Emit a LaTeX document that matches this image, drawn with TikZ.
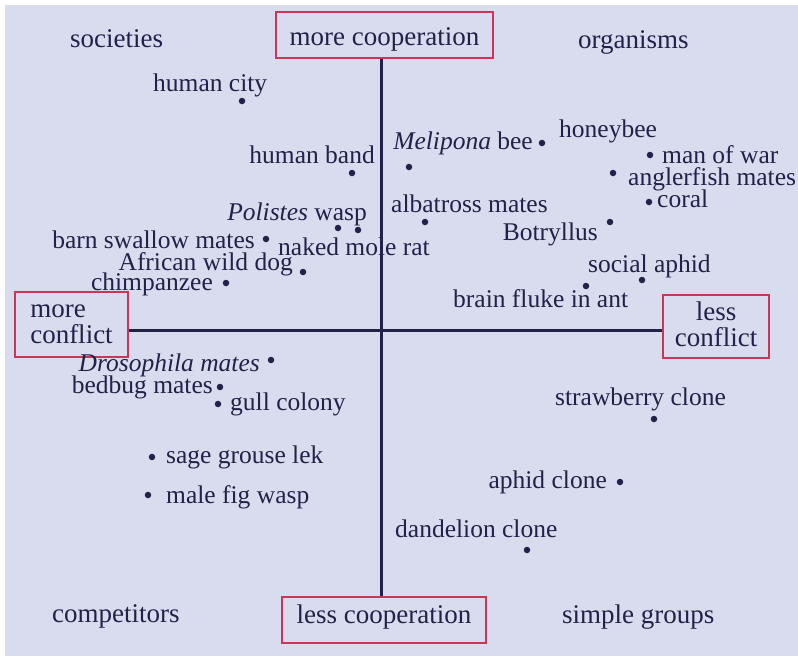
\documentclass[tikz,border=0pt]{standalone}
\usepackage{fontspec}
\setmainfont{Liberation Serif}
\definecolor{bgblue}{RGB}{217,220,238}
\definecolor{ink}{RGB}{32,34,72}
\definecolor{boxred}{RGB}{200,55,85}

\begin{document}
\begin{tikzpicture}[x=1pt,y=-1pt,
  sdot/.style={circle, fill=ink, inner sep=0pt, minimum size=6.5pt},
  lab/.style={text=ink, inner sep=0pt, font=\fontsize{25.5}{28}\selectfont},
  corner/.style={text=ink, inner sep=0pt, anchor=base west, font=\fontsize{27}{30}\selectfont},
  axbox/.style={draw=boxred, line width=1.2pt, text=ink, inner sep=0pt, font=\fontsize{27}{25}\selectfont}]
\useasboundingbox (0,0) rectangle (798,656);
\fill[bgblue] (5,5) rectangle (798,656);

% boxes at the ends of the axes
\node[axbox, minimum width=217pt, minimum height=46pt, text height=20pt, text depth=0pt] (mcoop) at (384.5,35) {more cooperation};
\node[axbox, minimum width=204pt, minimum height=46pt, text height=12pt, text depth=6pt] (lcoop) at (384,620) {less cooperation};
\node[axbox, minimum width=113pt, minimum height=65pt, text height=0pt, text depth=15pt] (mconf) at (71.5,324.5) {\begin{tabular}[t]{@{}l@{}}more\\conflict\end{tabular}};
\node[axbox, minimum width=106pt, minimum height=63pt, text height=0pt, text depth=13pt] (lconf) at (716,326.5) {\begin{tabular}[t]{@{}c@{}}less\\conflict\end{tabular}};

\coordinate (o) at (381,330);
\draw[ink, line width=3pt] (mcoop.south -| o) -- (lcoop.north -| o);
\draw[ink, line width=3pt] (mconf.east |- o) -- (lconf.west |- o);

% quadrant names
\node[corner] (soc) at (70,47) {societies};
\node[corner] (org) at (578,48) {organisms};
\node[corner] (comp) at (52,622) {competitors};
\node[corner] (simple) at (562,623) {simple groups};

% upper left
\node[lab, anchor=base west] (city) at (153,91) {human city};
\node[sdot] (citydot) at (242,101) {};
\node[lab, anchor=base east] (band) at (375,163) {human band};
\node[sdot] (banddot) at (352,173) {};
\node[lab, anchor=base east] (polistes) at (367,220) {\textit{Polistes} wasp};
\node[sdot] (polistesdot) at (338,228) {};
\node[sdot] (moleratdot) at (358,230) {};
\node[lab, anchor=base west] (molerat) at (278,255) {naked mole rat};
\node[lab, anchor=base east] (swallow) at (255,248) {barn swallow mates};
\node[sdot] (swallowdot) at (266,239) {};
\node[lab, anchor=base east] (wilddog) at (293,270) {African wild dog};
\node[sdot] (wilddogdot) at (303,272) {};
\node[lab, anchor=base east] (chimp) at (213,290) {chimpanzee};
\node[sdot] (chimpdot) at (226,283) {};

% upper right
\node[lab, anchor=base east] (melipona) at (533,149) {\textit{Melipona} bee};
\node[sdot] (honeybeedot) at (542,143) {};
\node[sdot] (meliponadot) at (409,167) {};
\node[lab, anchor=base west] (honeybee) at (559,137) {honeybee};
\node[lab, anchor=base west] (manofwar) at (662,163) {man of war};
\node[sdot] (manofwardot) at (650,155) {};
\node[lab, anchor=base west] (angler) at (628,185) {anglerfish mates};
\node[sdot] (anglerdot) at (613,173) {};
\node[lab, anchor=base west] (coral) at (657,207) {coral};
\node[sdot] (coraldot) at (649,202) {};
\node[lab, anchor=base west] (albatross) at (391,212) {albatross mates};
\node[sdot] (albatrossdot) at (425,222) {};
\node[lab, anchor=base east] (botryllus) at (598,240) {Botryllus};
\node[sdot] (botryllusdot) at (610,222) {};
\node[lab, anchor=base west] (socaphid) at (588,272) {social aphid};
\node[sdot] (socaphiddot) at (642,280) {};
\node[lab, anchor=base west] (fluke) at (453,307) {brain fluke in ant};
\node[sdot] (flukedot) at (586,286) {};

% lower left
\node[lab, anchor=base east] (drosophila) at (260,371) {\textit{Drosophila mates}};
\node[sdot] (drosophiladot) at (271,360) {};
\node[lab, anchor=base east] (bedbug) at (213,393) {bedbug mates};
\node[sdot] (bedbugdot) at (220,387) {};
\node[lab, anchor=base west] (gull) at (230,410) {gull colony};
\node[sdot] (gulldot) at (218,404) {};
\node[lab, anchor=base west] (grouse) at (166,463) {sage grouse lek};
\node[sdot] (grousedot) at (152,457) {};
\node[lab, anchor=base west] (figwasp) at (166,503) {male fig wasp};
\node[sdot] (figwaspdot) at (148,495) {};

% lower right
\node[lab, anchor=base west] (strawberry) at (555,405) {strawberry clone};
\node[sdot] (strawberrydot) at (654,419) {};
\node[lab, anchor=base east] (aphidclone) at (607,488) {aphid clone};
\node[sdot] (aphidclonedot) at (620,482) {};
\node[lab, anchor=base west] (dandelion) at (395,537) {dandelion clone};
\node[sdot] (dandeliondot) at (527,550) {};
\end{tikzpicture}
\end{document}
